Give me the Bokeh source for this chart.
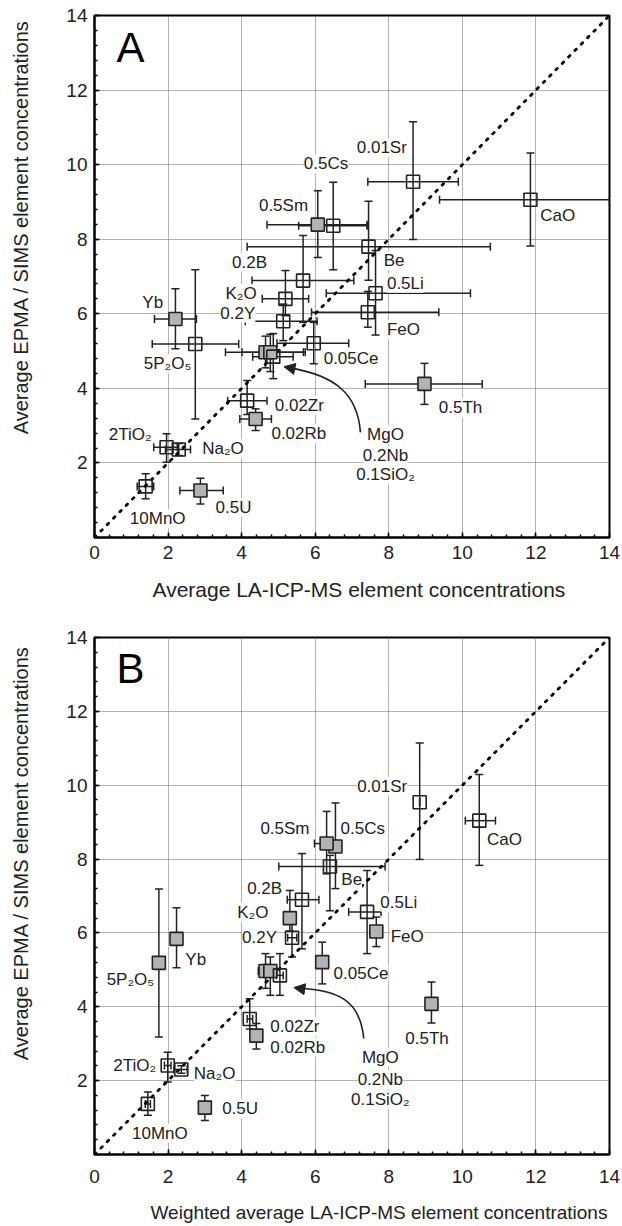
from bokeh.plotting import figure
from bokeh.models import (ColumnDataSource, Whisker, TeeHead, LabelSet, Label, FixedTicker,
                          Arrow, NormalHead, Range1d)
from bokeh.layouts import column, row
from bokeh.embed import file_html
from bokeh.resources import INLINE
from bokeh.core.properties import value
import numpy as np

FONT = "Liberation Sans"
INK = "#222222"

names = ["0.01Sr", "CaO", "0.5Cs", "0.5Sm", "Be", "0.5Li", "FeO", "0.2B", "K₂O", "0.2Y",
         "0.05Ce", "MgO", "0.2Nb", "0.1SiO₂", "0.02Zr", "0.02Rb", "2TiO₂", "Na₂O", "10MnO",
         "0.5U", "Yb", "5P₂O₅", "0.5Th"]

# ---------------- Panel A: average LA-ICP-MS ----------------
a_x   = [8.66, 11.85, 6.49, 6.07, 7.45, 7.64, 7.43, 5.67, 5.19, 5.13, 5.96, 4.65, 4.78, 4.86, 4.15, 4.38, 1.96, 2.29, 1.39, 2.88, 2.20, 2.74, 8.97]
a_xlo = [7.43, 9.38, 5.55, 4.69, 4.15, 6.30, 5.90, 4.28, 4.56, 4.10, 4.96, 3.56, 4.01, 4.30, 3.62, 3.95, 1.61, 1.93, 1.16, 2.32, 1.63, 1.57, 7.36]
a_xhi = [9.89, 14.0, 7.41, 7.41, 10.76, 10.22, 9.36, 7.05, 5.82, 6.05, 6.91, 5.68, 5.73, 5.40, 4.69, 4.81, 2.25, 2.61, 1.61, 3.50, 2.77, 3.92, 10.54]
a_y   = [9.54, 9.06, 8.36, 8.39, 7.80, 6.55, 6.04, 6.89, 6.40, 5.80, 5.21, 4.97, 4.97, 4.85, 3.67, 3.18, 2.42, 2.36, 1.37, 1.26, 5.86, 5.19, 4.12]
a_ylo = [7.99, 7.82, 7.18, 7.51, 6.90, 5.43, 5.64, 5.77, 5.95, 5.28, 4.66, 4.55, 4.45, 4.26, 3.30, 2.87, 2.02, 2.20, 1.04, 0.90, 5.06, 3.18, 3.57]
a_yhi = [11.15, 10.31, 9.53, 9.30, 9.02, 7.70, 6.60, 8.10, 7.16, 6.26, 5.77, 5.40, 5.45, 5.47, 4.21, 3.45, 2.78, 2.52, 1.71, 1.59, 6.67, 7.18, 4.67]
a_filled = [0, 0, 0, 1, 0, 0, 0, 0, 0, 0, 0, 1, 1, 0, 0, 1, 0, 0, 0, 1, 1, 0, 1]

# ---------------- Panel B: weighted average LA-ICP-MS ----------------
b_x   = [8.84, 10.46, 6.55, 6.31, 6.40, 7.41, 7.66, 5.64, 5.31, 5.37, 6.19, 4.65, 4.78, 5.04, 4.22, 4.40, 1.99, 2.36, 1.45, 3.00, 2.23, 1.75, 9.16]
b_xlo = [8.84, 10.08, 6.55, 5.98, 5.01, 6.91, 7.66, 5.24, 5.31, 5.25, 6.19, 4.45, 4.60, 4.95, 4.15, 4.40, 1.90, 2.16, 1.38, 3.00, 2.10, 1.75, 9.16]
b_xhi = [8.84, 10.90, 6.55, 6.60, 7.90, 7.79, 7.66, 6.10, 5.31, 5.50, 6.19, 4.85, 4.95, 5.13, 4.30, 4.40, 2.08, 2.52, 1.52, 3.00, 2.35, 1.75, 9.16]
b_y   = [9.54, 9.04, 8.34, 8.42, 7.80, 6.57, 6.04, 6.90, 6.40, 5.87, 5.21, 4.97, 4.97, 4.85, 3.67, 3.22, 2.41, 2.30, 1.37, 1.27, 5.84, 5.19, 4.08]
b_ylo = [7.99, 7.83, 7.20, 7.60, 6.60, 5.44, 5.63, 5.57, 6.05, 5.35, 4.62, 4.50, 4.31, 4.31, 3.40, 2.86, 1.96, 2.20, 1.06, 0.92, 5.06, 3.18, 3.56]
b_yhi = [11.14, 10.29, 9.52, 9.29, 8.10, 7.69, 6.43, 8.15, 7.15, 6.30, 5.75, 5.44, 5.35, 5.44, 4.22, 3.55, 2.77, 2.40, 1.69, 1.60, 6.68, 7.19, 4.67]
b_filled = [0, 0, 1, 1, 0, 0, 1, 0, 1, 0, 1, 1, 1, 0, 0, 1, 0, 0, 0, 1, 1, 1, 1]

# label anchors (left edge / vertical middle), data units
single_labels = ["0.01Sr", "CaO", "0.5Cs", "0.5Sm", "Be", "0.5Li", "FeO", "0.2B", "K₂O", "0.2Y",
                 "0.05Ce", "0.02Zr", "0.02Rb", "2TiO₂", "Na₂O", "10MnO", "0.5U", "Yb", "5P₂O₅", "0.5Th"]
a_lab_x = [7.13, 12.12, 5.69, 4.47, 7.86, 7.95, 7.95, 3.74, 3.56, 3.42, 6.23, 4.90, 4.81, 0.39, 2.93, 0.96, 3.29, 1.30, 1.34, 9.36]
a_lab_y = [10.45, 8.63, 10.02, 8.90, 7.43, 6.82, 5.57, 7.38, 6.54, 6.02, 4.79, 3.54, 2.78, 2.76, 2.38, 0.50, 0.81, 6.31, 4.66, 3.48]
b_lab_x = [7.14, 10.67, 6.69, 4.51, 6.71, 7.77, 8.05, 4.15, 3.88, 4.01, 6.50, 4.78, 4.78, 0.51, 2.70, 1.02, 3.47, 2.47, 0.33, 8.45]
b_lab_y = [9.97, 8.52, 8.82, 8.83, 7.45, 6.83, 5.89, 7.19, 6.56, 5.87, 4.90, 3.47, 2.91, 2.41, 2.19, 0.58, 1.24, 5.27, 4.73, 3.14]

group_labels = ["MgO", "0.2Nb", "0.1SiO₂"]
a_grp_x = [7.91, 7.91, 7.91]
a_grp_y = [2.76, 2.20, 1.68]
b_grp_x = [7.77, 7.77, 7.77]
b_grp_y = [2.64, 2.03, 1.49]

# pointer curves (start, controls, tip) for the MgO group
a_curve = dict(x0=7.23, y0=2.82, cx0=7.15, cy0=3.85, cx1=6.55, cy1=4.35, x1=5.30, y1=4.55)
b_curve = dict(x0=7.32, y0=3.14, cx0=7.22, cy0=4.20, cx1=6.60, cy1=4.45, x1=5.55, y1=4.50)
a_tip = (5.15, 4.58)
b_tip = (5.42, 4.52)

one_to_one = [0, 14]
axis_max = 14

x_title_a = "Average LA-ICP-MS element concentrations"
x_title_b = "Weighted average LA-ICP-MS element concentrations"
y_title = "Average EPMA / SIMS element concentrations"


def text_strip(width, height, text, x, y, size, angle=0.0, align="center"):
    """A borderless strip holding one axis title (pixel coordinates)."""
    f = figure(width=width, height=height, output_backend="svg", toolbar_location=None,
               x_range=Range1d(0, width), y_range=Range1d(0, height),
               x_axis_location=None, y_axis_location=None, min_border=0,
               outline_line_color=None, background_fill_color="white",
               border_fill_color="white")
    f.grid.visible = False
    f.text(x=[x], y=[y], text=[text], angle=angle, text_font=value(FONT),
           text_font_size=value(size), text_color=INK, text_align=align,
           text_baseline="middle")
    return f


def make_panel(letter, xs, xlo, xhi, ys, ylo, yhi, filled, lab_x, lab_y, grp_x, grp_y,
               curve, tip, height, top, bottom, tick_standoff):
    p = figure(width=582, height=height, output_backend="svg", toolbar_location=None,
               x_range=Range1d(0, axis_max), y_range=Range1d(0, axis_max),
               min_border_left=54, min_border_right=13, min_border_top=top,
               min_border_bottom=bottom, background_fill_color="white",
               border_fill_color="white")
    p.outline_line_color = "black"
    p.outline_line_width = 2
    p.outline_line_alpha = 1

    minor = [v for v in np.arange(0, 14.01, 0.4)]
    p.xaxis.ticker = FixedTicker(ticks=list(range(0, 15, 2)), minor_ticks=minor)
    p.yaxis.ticker = FixedTicker(ticks=list(range(2, 15, 2)), minor_ticks=minor)
    for ax in (p.xaxis[0], p.yaxis[0]):
        ax.axis_line_width = 2
        ax.axis_line_color = "black"
        ax.major_tick_in = 5
        ax.major_tick_out = 0
        ax.minor_tick_in = 3
        ax.minor_tick_out = 0
        ax.major_tick_line_color = "black"
        ax.minor_tick_line_color = "black"
        ax.major_tick_line_width = 1.5
        ax.minor_tick_line_width = 1.5
        ax.major_label_text_font = FONT
        ax.major_label_text_font_size = "19px"
        ax.major_label_text_color = INK
    p.xaxis.major_label_standoff = tick_standoff
    p.yaxis.major_label_standoff = 7

    p.xgrid.ticker = FixedTicker(ticks=list(range(0, 15, 2)))
    p.ygrid.ticker = FixedTicker(ticks=list(range(0, 15, 2)))
    for g in (p.xgrid[0], p.ygrid[0]):
        g.grid_line_color = "#666666"
        g.grid_line_dash = "1 1"
        g.grid_line_width = 1

    p.line(one_to_one, one_to_one, line_color="black", line_width=2.8,
           line_dash="2 7", line_cap="round")

    src = ColumnDataSource(dict(x=xs, xlo=xlo, xhi=xhi, y=ys, ylo=ylo, yhi=yhi,
                                fill=["#b3b3b3" if f else "white" for f in filled],
                                alpha=[1.0 if f else 0.0 for f in filled]))
    for dim, base, lo, hi in (("width", "y", "xlo", "xhi"), ("height", "x", "ylo", "yhi")):
        w = Whisker(source=src, base=base, lower=lo, upper=hi, dimension=dim,
                    line_color=INK, line_width=1.5,
                    lower_head=TeeHead(size=8, line_width=1.5, line_color=INK),
                    upper_head=TeeHead(size=8, line_width=1.5, line_color=INK))
        p.add_layout(w)

    p.scatter("x", "y", source=src, marker="square", size=13, line_color=INK, line_width=1.6,
              fill_color="fill", fill_alpha="alpha")

    p.bezier(x0=[curve["x0"]], y0=[curve["y0"]], x1=[curve["x1"]], y1=[curve["y1"]],
             cx0=[curve["cx0"]], cy0=[curve["cy0"]], cx1=[curve["cx1"]], cy1=[curve["cy1"]],
             line_color=INK, line_width=1.6)
    p.add_layout(Arrow(end=NormalHead(size=11, fill_color=INK, line_color=INK, line_width=1),
                       x_start=curve["x1"], y_start=curve["y1"], x_end=tip[0], y_end=tip[1],
                       line_color=INK, line_width=1.6))

    lsrc = ColumnDataSource(dict(x=lab_x, y=lab_y, t=single_labels))
    p.add_layout(LabelSet(x="x", y="y", text="t", source=lsrc, text_font=value(FONT),
                          text_font_size="17px", text_color=INK, text_align="left",
                          text_baseline="middle", background_fill_color="white"))
    gsrc = ColumnDataSource(dict(x=grp_x, y=grp_y, t=group_labels))
    p.add_layout(LabelSet(x="x", y="y", text="t", source=gsrc, text_font=value(FONT),
                          text_font_size="17px", text_color=INK, text_align="center",
                          text_baseline="middle", background_fill_color="white"))

    p.add_layout(Label(x=0.6, y=13.15, text=letter, text_font=FONT, text_font_size="42px",
                       text_color="black", text_align="left", text_baseline="middle"))
    return p


# Panel A block: rows 0..577 (frame 15..537), x-title strip 577..613
pa = make_panel("A", a_x, a_xlo, a_xhi, a_y, a_ylo, a_yhi, a_filled, a_lab_x, a_lab_y,
                a_grp_x, a_grp_y, a_curve, a_tip, 577, 15, 40, 8)
ya = text_strip(40, 577, y_title, 20, 343, "20px", angle=np.pi / 2)
xa = text_strip(622, 36, x_title_a, 152, 24, "21px", align="left")

# Panel B block: rows 613..1193 (frame 637..1154), x-title strip 1193..1226
pb = make_panel("B", b_x, b_xlo, b_xhi, b_y, b_ylo, b_yhi, b_filled, b_lab_x, b_lab_y,
                b_grp_x, b_grp_y, b_curve, b_tip, 580, 24, 39, 15)
yb = text_strip(40, 580, y_title, 20, 338, "20px", angle=np.pi / 2)
xb = text_strip(622, 33, x_title_b, 150, 14, "19px", align="left")

layout = column(row(ya, pa, spacing=0), xa, row(yb, pb, spacing=0), xb, spacing=0)
open("out.html", "w").write(file_html(layout, INLINE))
